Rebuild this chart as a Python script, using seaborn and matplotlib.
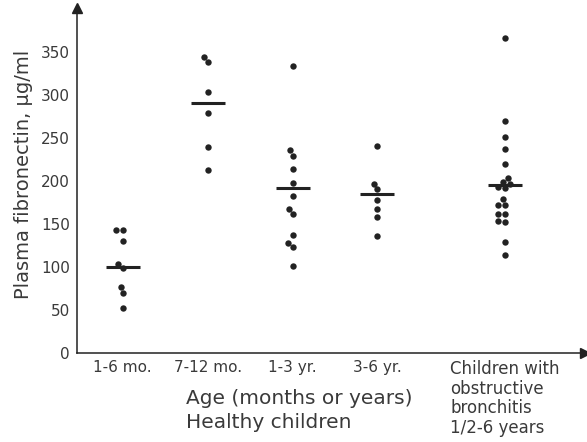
import pandas as pd
import matplotlib
matplotlib.use("Agg")
import matplotlib.pyplot as plt
import seaborn as sns

# plasma fibronectin values (ug/ml)
groups = ["1-6 mo.", "7-12 mo.", "1-3 yr.", "3-6 yr.",
          "Children with\nobstructive\nbronchitis\n1/2-6 years"]
g1 = [143, 143, 130, 104, 99, 77, 70, 52]
g2 = [344, 338, 303, 279, 240, 213]
g3 = [333, 236, 229, 214, 198, 183, 168, 162, 137, 128, 123, 101]
g4 = [241, 197, 191, 178, 168, 158, 136]
g5 = [366, 270, 251, 237, 220, 203, 199, 196, 193, 192, 179, 172, 172,
      162, 162, 153, 152, 129, 114]
centre = [100, 291, 192, 185, 195]
yticks = [0, 50, 100, 150, 200, 250, 300, 350]

# where each group sits on the x axis (gap before the bronchitis group)
group_pos = [1, 2, 3, 4, 5.5]

rows = []
for pos, vals in zip(group_pos, [g1, g2, g3, g4, g5]):
    for v in vals:
        rows.append({"pos": pos, "value": v})
df = pd.DataFrame(rows)

sns.set_style("white")
plt.rcParams["font.family"] = ["DejaVu Sans"]
ink = "#222222"
txt = "#3a3a3a"

fig = plt.figure(figsize=(5.87, 4.42), dpi=100)
ax = fig.add_axes([0.131, 0.201, 0.865, 0.781])

sns.swarmplot(data=df, x="pos", y="value", native_scale=True, color=ink,
              size=4.6, ax=ax)
ax.hlines(centre, [p - 0.2 for p in group_pos], [p + 0.2 for p in group_pos],
          color=ink, lw=2.2)

ax.set_xlim(0.46, 6.44)
ax.set_ylim(0, 401)
ax.set_xticks(group_pos)
ax.set_xticklabels(groups, fontsize=11, color=txt)
ax.set_yticks(yticks)
ax.set_yticklabels(yticks, fontsize=11, color=txt)
last = ax.get_xticklabels()[-1]
last.set_multialignment("left")
last.set_fontsize(12)
last.set_linespacing(1.12)
ax.tick_params(direction="in", length=10, width=1, color=ink, pad=5)
ax.set_xlabel("")
ax.set_ylabel("")

for s in ["top", "right"]:
    ax.spines[s].set_visible(False)
for s in ["left", "bottom"]:
    ax.spines[s].set_color(ink)
    ax.spines[s].set_linewidth(1.1)

# arrow heads on the axes
ax.plot(1, 0, ">", color=ink, ms=7, transform=ax.transAxes, clip_on=False)
ax.plot(0, 1, "^", color=ink, ms=7, transform=ax.transAxes, clip_on=False)

fig.text(0.04, 0.606, "Plasma fibronectin, \u03bcg/ml", rotation=90,
         ha="center", va="center", fontsize=14, color=txt)
fig.text(0.317, 0.099, "Age (months or years)", ha="left", va="center",
         fontsize=14.5, color=txt)
fig.text(0.317, 0.045, "Healthy children", ha="left", va="center",
         fontsize=14.5, color=txt)

fig.savefig("out.png", dpi=100)
